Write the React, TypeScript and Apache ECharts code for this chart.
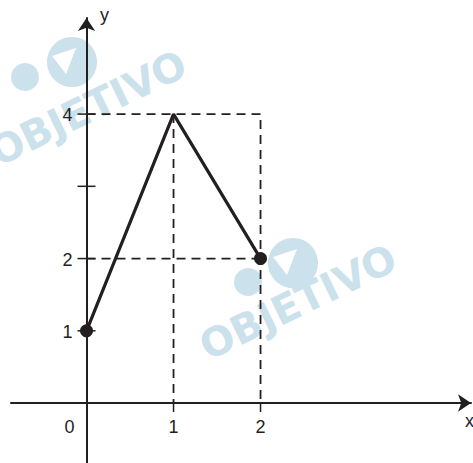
import React, { useEffect, useRef } from "react";
import * as echarts from "echarts";

// ---- data ----
const X_TICKS = [1, 2];
const X_LABELS = [0, 1, 2];
const Y_TICKS = [1, 2, 3, 4];
const Y_LABELS = [1, 2, 4];
const curveX = [0, 1, 2];
const curveY = [1, 4, 2];
const dotX = [0, 2];
const dotY = [1, 2];
const guideRect = [[0, 4], [2, 4], [2, 0]];
const guideMid = [[1, 4], [1, 0]];
const guideH2 = [[0, 2], [2, 2]];
const WATERMARK = "OBJETIVO";

const INK = "#231f20";
const WM = "#cbe1eb";
const FONT = "'Liberation Sans', Arial, sans-serif";

function logo(cx: number, cy: number, sx: number, sy: number) {
  return [
    { type: "circle", z: -5, shape: { cx, cy, r: 25 }, style: { fill: WM } },
    {
      type: "polygon",
      z: -4,
      shape: { points: [[cx - 20, cy - 6], [cx + 4, cy - 14], [cx - 6, cy + 12]] },
      style: { fill: "#ffffff" },
    },
    { type: "circle", z: -5, shape: { cx: sx, cy: sy, r: 14 }, style: { fill: WM } },
  ];
}

function wmText(x: number, y: number) {
  return {
    type: "text",
    z: -5,
    x,
    y,
    rotation: 0.45,
    style: {
      text: WATERMARK,
      fill: WM,
      font: "bold 40px 'DejaVu Sans', sans-serif",
      align: "center",
      verticalAlign: "middle",
    },
  };
}

export default function App() {
  const ref = useRef<HTMLDivElement>(null);
  useEffect(() => {
    if (!ref.current) return;
    const chart = echarts.init(ref.current, null, { renderer: "svg" });
    const axisLineCfg = {
      show: true,
      onZero: true,
      symbol: ["none", "arrow"],
      symbolSize: [13, 13],
      lineStyle: { color: INK, width: 2 },
    };
    chart.setOption({
      animation: false,
      backgroundColor: "#ffffff",
      grid: {
        left: 11,
        right: 2,
        top: 18,
        bottom: 0,
        containLabel: false,
        outerBoundsMode: "none",
      },
      xAxis: {
        type: "value",
        min: -0.868,
        max: 4.419,
        axisLine: axisLineCfg,
        axisTick: { show: false },
        axisLabel: { show: false },
        splitLine: { show: false },
      },
      yAxis: {
        type: "value",
        min: -0.83,
        max: 5.33,
        axisLine: axisLineCfg,
        axisTick: { show: false },
        axisLabel: { show: false },
        splitLine: { show: false },
      },
      graphic: [
        ...logo(72, 62, 25, 77),
        wmText(88, 108),
        ...logo(293, 263, 248, 282),
        wmText(298, 302),
        { type: "circle", z: -5, shape: { cx: 478, cy: 488, r: 25 }, style: { fill: WM } },
        {
          type: "text",
          z: 5,
          x: 100,
          y: 15,
          style: { text: "y", fill: INK, font: `18px ${FONT}`, align: "left", verticalAlign: "middle" },
        },
        {
          type: "text",
          z: 5,
          x: 465,
          y: 421,
          style: { text: "x", fill: INK, font: `18px ${FONT}`, align: "left", verticalAlign: "middle" },
        },
      ],
      series: [
        {
          // y-axis ticks crossing the axis, and y tick labels
          type: "custom",
          data: Y_TICKS.map((v) => [0, v]),
          z: 3,
          silent: true,
          renderItem: (_p: any, api: any) => {
            const v = api.value(1);
            const pt = api.coord([api.value(0), v]);
            const children: any[] = [
              {
                type: "line",
                shape: { x1: pt[0] - 9, y1: pt[1], x2: pt[0] + 9, y2: pt[1] },
                style: { stroke: INK, lineWidth: 1.5 },
              },
            ];
            if (Y_LABELS.includes(v)) {
              children.push({
                type: "text",
                x: pt[0] - 14,
                y: pt[1] + 1,
                style: {
                  text: String(v),
                  fill: INK,
                  font: `18px ${FONT}`,
                  align: "right",
                  verticalAlign: "middle",
                },
              });
            }
            return { type: "group", children };
          },
        },
        {
          // x-axis ticks (downwards) and x tick labels
          type: "custom",
          data: X_LABELS.map((v) => [v, 0]),
          z: 3,
          silent: true,
          renderItem: (_p: any, api: any) => {
            const v = api.value(0);
            const pt = api.coord([v, api.value(1)]);
            const children: any[] = [];
            if (X_TICKS.includes(v)) {
              children.push({
                type: "line",
                shape: { x1: pt[0], y1: pt[1], x2: pt[0], y2: pt[1] + 9 },
                style: { stroke: INK, lineWidth: 1.5 },
              });
            }
            children.push({
              type: "text",
              x: v === 0 ? pt[0] - 17 : pt[0],
              y: pt[1] + 24,
              style: {
                text: String(v),
                fill: INK,
                font: `18px ${FONT}`,
                align: "center",
                verticalAlign: "middle",
              },
            });
            return { type: "group", children };
          },
        },
        ...[guideRect, guideMid, guideH2].map((d) => ({
          type: "line",
          data: d,
          symbol: "none",
          silent: true,
          lineStyle: { color: INK, width: 1.8, type: [9, 6] },
          z: 3,
        })),
        {
          type: "line",
          data: curveX.map((x, i) => [x, curveY[i]]),
          symbol: "none",
          lineStyle: { color: INK, width: 3.2 },
          z: 4,
        },
        {
          type: "scatter",
          data: dotX.map((x, i) => [x, dotY[i]]),
          symbolSize: 13,
          itemStyle: { color: INK, opacity: 1 },
          z: 5,
        },
      ],
    });
    return () => chart.dispose();
  }, []);
  return (
    <div
      ref={ref}
      style={{ position: "fixed", left: 0, top: 0, width: 473, height: 463, background: "#fff" }}
    />
  );
}
